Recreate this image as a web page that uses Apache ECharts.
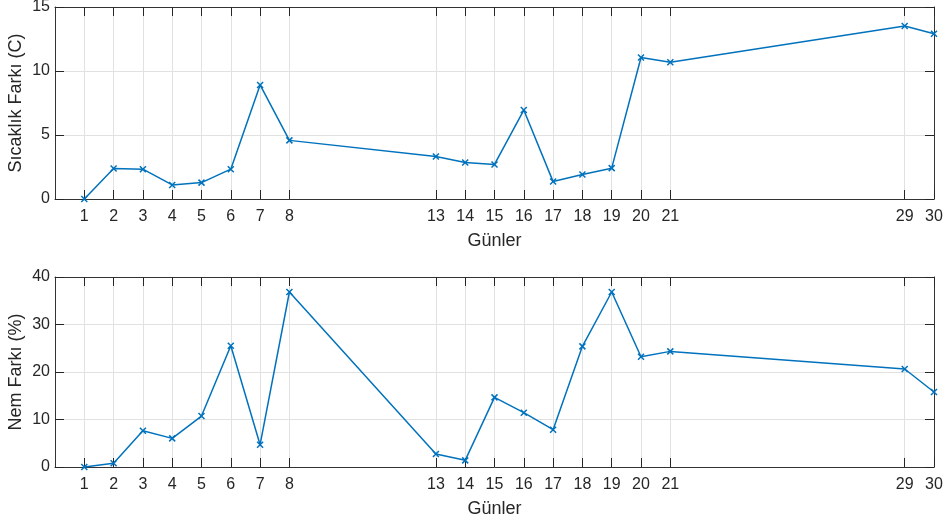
<!DOCTYPE html>
<html>
<head>
<meta charset="utf-8">
<script src="https://cdn.jsdelivr.net/npm/echarts@6/dist/echarts.min.js"></script>
<style>
  html, body { margin: 0; padding: 0; background: #ffffff; }
  #chart { width: 950px; height: 523px; }
</style>
</head>
<body>
<div id="chart"></div>
<script>
// Measurement days (x positions and tick labels)
const days = [1, 2, 3, 4, 5, 6, 7, 8, 13, 14, 15, 16, 17, 18, 19, 20, 21, 29, 30];
// Temperature difference per day (°C)
const tempDiff = [0, 2.38, 2.33, 1.10, 1.28, 2.33, 8.91, 4.58, 3.32, 2.85, 2.70, 6.95, 1.36, 1.91, 2.41, 11.05, 10.69, 13.51, 12.91];
// Humidity difference per day (%)
const humDiff = [0, 0.77, 7.64, 6.03, 10.73, 25.54, 4.69, 36.84, 2.73, 1.40, 14.66, 11.43, 7.85, 25.40, 36.84, 23.22, 24.34, 20.63, 15.79];

const xName = 'Günler';
const tempName = 'Sıcaklık Farkı (C)';
const humName = 'Nem Farkı (%)';

const FONT = 'Liberation Sans, Arial, Helvetica, sans-serif';
const INK = '#262626';
const GRIDC = '#e1e1e1';
const LINEC = '#0072BD';

const frameLine = { show: true, onZero: false, lineStyle: { color: '#333333', width: 1 } };
const tickStyle = { color: INK, width: 1 };

function xAxesFor(gi) {
  return [
    {
      type: 'value', gridIndex: gi, min: 0, max: 30, position: 'bottom',
      name: xName, nameLocation: 'middle', nameGap: 33, nameMoveOverlap: false,
      nameTextStyle: { fontFamily: FONT, fontSize: 18, color: INK },
      axisLine: frameLine,
      axisTick: { show: true, inside: true, length: 9, customValues: days, lineStyle: tickStyle },
      axisLabel: { show: true, customValues: days, fontFamily: FONT, fontSize: 16, color: INK, margin: 10 },
      splitLine: { show: true, customValues: days, lineStyle: { color: GRIDC, width: 1 } }
    },
    {
      type: 'value', gridIndex: gi, min: 0, max: 30, position: 'top',
      axisLine: frameLine,
      axisTick: { show: true, inside: true, length: 9, customValues: days, lineStyle: tickStyle },
      axisLabel: { show: false },
      splitLine: { show: false }
    }
  ];
}

function yAxesFor(gi, max, step, name) {
  return [
    {
      type: 'value', gridIndex: gi, min: 0, max: max, interval: step, position: 'left',
      name: name, nameLocation: 'middle', nameGap: 30, nameMoveOverlap: false,
      nameTextStyle: { fontFamily: FONT, fontSize: 18, color: INK },
      axisLine: frameLine,
      axisTick: { show: true, inside: true, length: 9, lineStyle: tickStyle },
      axisLabel: { fontFamily: FONT, fontSize: 16, color: INK, margin: 5 },
      splitLine: { show: true, lineStyle: { color: GRIDC, width: 1 } }
    },
    {
      type: 'value', gridIndex: gi, min: 0, max: max, interval: step, position: 'right',
      axisLine: frameLine,
      axisTick: { show: true, inside: true, length: 9, lineStyle: tickStyle },
      axisLabel: { show: false },
      splitLine: { show: false }
    }
  ];
}

function lineSeries(values, axisIdx) {
  return {
    type: 'line',
    xAxisIndex: axisIdx, yAxisIndex: axisIdx,
    data: days.map((d, i) => [d, values[i]]),
    clip: false,
    symbol: 'path://M0,0L10,10M10,0L0,10',
    symbolSize: 6,
    showSymbol: true,
    lineStyle: { color: LINEC, width: 1.5 },
    itemStyle: { color: LINEC, borderColor: LINEC, borderWidth: 1.5 },
    emphasis: { disabled: true },
    animation: false
  };
}

const chart = echarts.init(document.getElementById('chart'), null, { renderer: 'canvas' });
chart.setOption({
  backgroundColor: '#ffffff',
  animation: false,
  grid: [
    { left: 55, right: 16, top: 7, height: 192, containLabel: false, outerBoundsMode: 'none' },
    { left: 55, right: 16, top: 277, height: 190, containLabel: false, outerBoundsMode: 'none' }
  ],
  xAxis: [...xAxesFor(0), ...xAxesFor(1)],
  yAxis: [...yAxesFor(0, 15, 5, tempName), ...yAxesFor(1, 40, 10, humName)],
  series: [
    lineSeries(tempDiff, 0),
    lineSeries(humDiff, 2)
  ]
});
</script>
</body>
</html>
